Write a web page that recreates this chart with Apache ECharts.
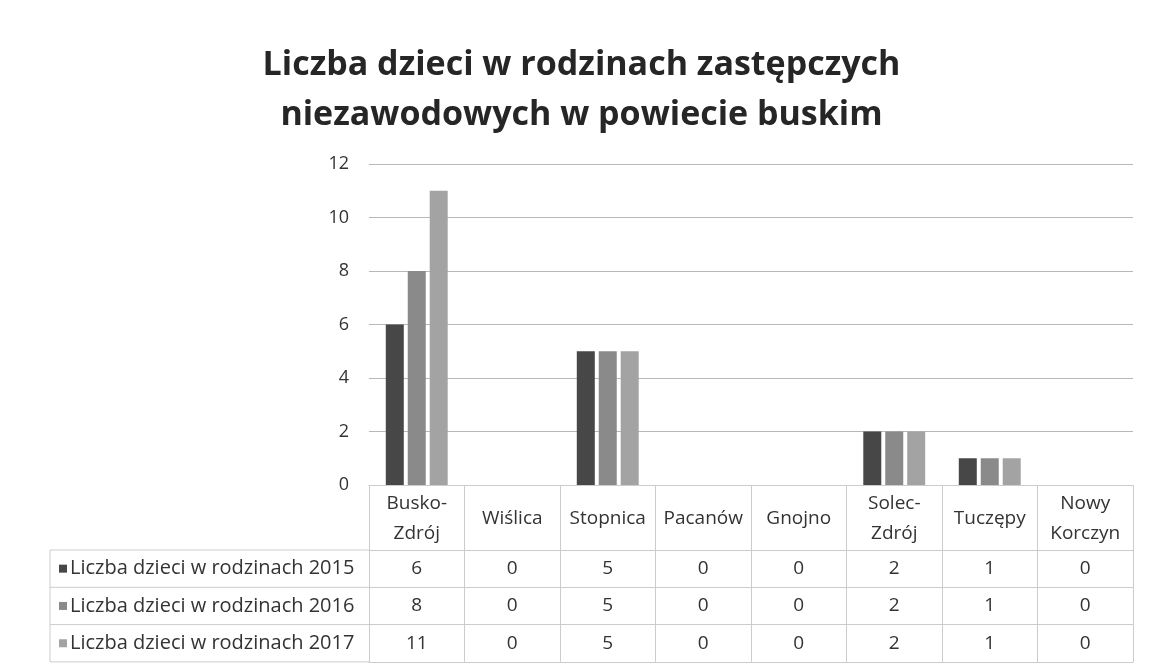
<!DOCTYPE html>
<html>
<head>
<meta charset="utf-8">
<script src="https://cdn.jsdelivr.net/npm/echarts@6/dist/echarts.min.js"></script>
<style>
  html, body { margin: 0; padding: 0; background: #fff; }
  #chart { width: 1163px; height: 670px; }
</style>
</head>
<body>
<div id="chart"></div>
<script>
const categories = ['Busko-\nZdrój', 'Wiślica', 'Stopnica', 'Pacanów', 'Gnojno', 'Solec-\nZdrój', 'Tuczępy', 'Nowy\nKorczyn']
const seriesNames = ['Liczba dzieci w rodzinach 2015', 'Liczba dzieci w rodzinach 2016', 'Liczba dzieci w rodzinach 2017']
const values2015 = [6, 0, 5, 0, 0, 2, 1, 0]
const values2016 = [8, 0, 5, 0, 0, 2, 1, 0]
const values2017 = [11, 0, 5, 0, 0, 2, 1, 0]
const yTicks = [0, 2, 4, 6, 8, 10, 12]

const allValues = [values2015, values2016, values2017]
const colors = ['#474747', '#8a8a8a', '#a3a3a3']
const font = '"Open Sans", sans-serif'
const lineColor = '#cccccc'
const textColor = '#333'

// table layout (pixels below the plot bottom)
const headerH = 65
const rowH = 37.3
const gridLeft = 369
const gridRight = 30
const gridBottom = 185
const tableLeft = 50

const chart = echarts.init(document.getElementById('chart'))

const xAxes = [
  {
    type: 'category',
    data: categories,
    position: 'bottom',
    axisLine: { show: true, lineStyle: { color: lineColor } },
    axisTick: { show: true, length: headerH, lineStyle: { color: lineColor } },
    axisLabel: {
      color: textColor, fontFamily: font, fontSize: 19, lineHeight: 30, margin: 4, interval: 0,
      // single-line names sit in the middle of the header cell
      formatter: v => (v.indexOf('\n') >= 0 ? v : '{one|' + v + '}'),
      rich: { one: { color: textColor, fontFamily: font, fontSize: 19, lineHeight: 60 } },
    },
  },
]
allValues.forEach((vals, r) => {
  xAxes.push({
    type: 'category',
    data: categories,
    position: 'bottom',
    offset: headerH + r * rowH,
    axisLine: { show: true, lineStyle: { color: lineColor } },
    axisTick: { show: true, length: rowH, lineStyle: { color: lineColor } },
    axisLabel: {
      color: textColor, fontFamily: font, fontSize: 19, lineHeight: rowH, margin: 0, interval: 0,
      formatter: (v, i) => String(vals[i]),
    },
  })
})
// bottom border of the table
xAxes.push({
  type: 'category',
  data: categories,
  position: 'bottom',
  offset: headerH + 3 * rowH,
  axisLine: { show: true, lineStyle: { color: lineColor } },
  axisTick: { show: false },
  axisLabel: { show: false },
})

const tableTop = 670 - gridBottom + headerH
const graphics = []
for (let r = 0; r <= 3; r++) {
  graphics.push({
    type: 'line',
    shape: { x1: tableLeft, y1: tableTop + r * rowH, x2: gridLeft, y2: tableTop + r * rowH },
    style: { stroke: lineColor, lineWidth: 1 },
  })
}
graphics.push({
  type: 'line',
  shape: { x1: tableLeft, y1: tableTop, x2: tableLeft, y2: tableTop + 3 * rowH },
  style: { stroke: lineColor, lineWidth: 1 },
})

const options = {
  animation: false,
  title: {
    text: 'Liczba dzieci w rodzinach zastępczych\nniezawodowych w powiecie buskim',
    left: 'center',
    top: 35,
    textStyle: { fontFamily: font, fontSize: 34, fontWeight: 'bold', color: '#262626', lineHeight: 50 },
  },
  legend: {
    orient: 'vertical',
    left: tableLeft + 9,
    top: tableTop,
    padding: 0,
    height: 3 * rowH + 20,
    itemGap: 0,
    itemWidth: 8,
    itemHeight: 8,
    icon: 'rect',
    selectedMode: false,
    textStyle: { fontFamily: font, fontSize: 20, color: textColor, lineHeight: rowH, padding: [0, 0, 0, -2] },
    data: seriesNames,
  },
  grid: { left: gridLeft, right: gridRight, top: 164, bottom: gridBottom, containLabel: false },
  xAxis: xAxes,
  yAxis: {
    type: 'value',
    min: 0,
    max: yTicks[yTicks.length - 1],
    interval: yTicks[1] - yTicks[0],
    axisLine: { show: false },
    axisTick: { show: false },
    axisLabel: { color: textColor, fontFamily: font, fontSize: 18, margin: 20 },
    splitLine: { lineStyle: { color: '#b8b8b8' } },
  },
  series: allValues.map((vals, i) => ({
    name: seriesNames[i],
    type: 'bar',
    data: vals,
    barWidth: 18,
    barGap: '22%',
    itemStyle: { color: colors[i] },
  })),
  graphic: graphics,
}

chart.setOption(options)
window.addEventListener('resize', function () {
  chart && chart.resize()
})
</script>
</body>
</html>
